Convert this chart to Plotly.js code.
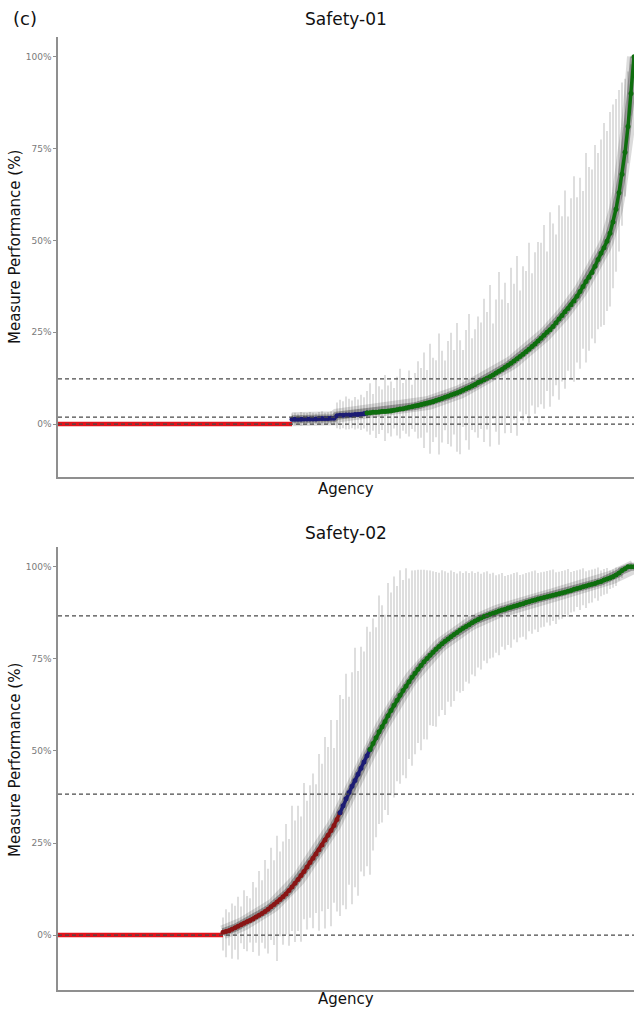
<!DOCTYPE html>
<html>
<head>
<meta charset="utf-8">
<script src="https://cdn.plot.ly/plotly-3.0.1.min.js"></script>
<style>
html,body{margin:0;padding:0;background:#fff;}
#chart{width:634px;height:1013px;}
</style>
</head>
<body>
<div id="chart"></div>
<script>
// ---------------- DATA ----------------
const panelTitles = ["Safety-01", "Safety-02"];
const xAxisLabel = "Agency";
const yAxisLabel = "Measure Performance (%)";
const panelTag = "(c)";
const yTickVals = [0, 25, 50, 75, 100];
const yTickText = ["0%", "25%", "50%", "75%", "100%"];

// Safety-01: agencies at 0%, then sorted non-zero performance (%)
const s1ZeroCount = 78;
const s1BlueCount = 25;
const s1Values = [
  1.3,1.3,1.3,1.3,1.4,1.4,1.4,1.4,1.4,1.5,1.5,1.5,1.5,1.6,1.6,
  2.3,2.4,2.4,2.5,2.5,2.5,2.6,2.6,2.7,2.8,
  3.0,3.1,3.2,3.2,3.3,3.4,3.4,3.5,3.6,3.8,
  3.9,4.1,4.2,4.4,4.6,4.7,4.9,5.1,5.3,5.5,
  5.7,5.9,6.1,6.4,6.7,7.0,7.3,7.6,7.9,8.2,
  8.5,8.8,9.2,9.6,10.0,10.4,10.8,11.3,11.7,12.1,
  12.5,12.9,13.4,13.9,14.4,14.9,15.5,16.0,16.6,17.2,
  17.8,18.4,19.0,19.7,20.4,21.1,21.8,22.6,23.4,24.2,
  25.0,25.7,26.6,27.6,28.6,29.6,30.6,31.5,32.5,33.5,
  34.8,36.1,37.5,38.8,40.0,41.3,43.0,44.8,46.5,48.0,
  49.8,52.0,55.0,58.5,63.0,68.0,74.0,81.0,90.0,100.0
];
const s1ErrUp = [
  1.6,1.8,1.5,2.0,1.7,1.6,1.9,1.7,1.5,1.8,2.0,1.6,1.7,1.9,1.8,
  3.6,4.2,3.8,5.0,4.4,3.9,4.8,4.1,5.3,4.5,
  6,8,5,9,7,6,10,7,8,6,9,11,7,8,10,6,9,12,
  10,14,9,16,12,11,18,13,10,15,17,12,19,14,11,16,20,13,15,18,
  16,22,18,25,14,20,27,19,23,17,26,21,28,18,24,22,29,20,25,27,
  26,30,22,32,28,24,31,27,33,25,29,34,27,31,26,35,30,28,33,29,
  31,34,30,33,32,30,28,25,20,15,8,0
];
const s1ErrDown = [
  1.5,1.6,1.4,1.7,1.5,1.5,1.6,1.5,1.4,1.6,1.7,1.5,1.5,1.6,1.6,
  3.4,3.8,3.5,4.0,3.9,3.6,4.1,3.8,4.3,4.0,
  5,6,5,7,6,5,8,6,7,5,7,8,6,7,8,6,7,9,
  9,12,8,14,11,10,15,12,9,13,14,11,16,17,10,14,17,12,13,15,
  13,17,14,19,12,16,20,15,18,14,19,16,21,15,18,17,20,16,19,18,
  18,20,16,21,19,17,22,18,21,17,20,22,18,21,17,22,20,18,21,19,
  20,21,19,20,18,17,16,14,12,10,6,0
];
const s1Benchmarks = [0, 1.9, 12.3];

// Safety-02
const s2ZeroCount = 55;
const s2RedCount = 39;
const s2BlueCount = 10;
const s2Values = [
  0.8,1.0,1.2,1.6,2.0,2.4,2.8,3.2,3.6,4.0,
  4.4,4.9,5.4,5.9,6.4,7.0,7.7,8.3,9.0,9.7,
  10.4,11.2,12.1,13.1,14.1,15.1,16.2,17.3,18.5,19.7,
  20.9,22.0,23.2,24.5,25.8,27.1,28.4,29.8,31.4,33.2,
  35.1,37.0,38.7,40.4,42.0,43.7,45.3,47.0,48.7,50.4,
  52.0,53.6,55.2,56.6,58.0,59.6,61.0,62.4,63.8,65.1,
  66.4,67.6,68.8,70.0,71.1,72.2,73.2,74.2,75.1,76.0,
  76.8,77.6,78.4,79.1,79.8,80.4,81.0,81.6,82.2,82.8,
  83.3,83.8,84.3,84.8,85.3,85.7,86.1,86.5,86.8,87.1,
  87.4,87.7,88.0,88.3,88.5,88.8,89.0,89.3,89.5,89.8,
  90.0,90.3,90.5,90.8,91.0,91.3,91.5,91.7,91.9,92.1,
  92.3,92.5,92.7,92.9,93.1,93.4,93.6,93.9,94.1,94.3,
  94.6,94.8,95.1,95.3,95.5,95.8,96.0,96.4,96.7,97.0,
  97.3,97.8,98.3,99.0,99.5,100,100,100
];
const s2ErrUp = [
  4,6,5,7,6,8,5,9,7,6,
  10,8,12,9,14,11,16,12,18,13,
  15,19,14,22,17,20,16,24,18,21,
  23,19,26,22,28,24,30,21,27,32,
  29,34,26,31,36,28,33,30,35,32,
  34,30,37,33,29,36,32,35,31,34,
  30,32,28,29,28,27,26,25,24,23,
  22,21,20,20,19,18,18,17,16,16,
  15,15,14,14,13,13,12,12,12,11,
  11,10,10,10,9,9,9,9,9,8,
  8,8,8,8,8,7,7,7,7,7,
  7,6,6,6,6,6,5,5,5,5,
  5,4,4,4,4,4,3,3,3,2,
  2,2,1.5,1,0.5,0,0,0
];
const s2ErrDown = [
  5,7,4,8,6,9,5,7,8,6,
  9,7,11,8,10,12,9,11,16,10,
  13,11,15,12,16,14,18,13,17,15,
  19,16,22,18,24,20,26,21,25,28,
  27,30,25,32,29,33,28,31,30,34,
  29,27,25,26,24,27,23,25,22,24,
  23,25,21,24,22,20,23,21,22,19,
  20,21,19,18,20,17,19,18,16,17,
  17,15,16,14,15,13,14,12,13,12,
  12,11,12,10,11,10,11,9,10,9,
  9,10,8,9,8,9,8,8,7,8,
  7,8,7,7,6,7,6,6,5,6,
  5,6,5,5,4,5,4,4,4,3,
  3,3,2,2,1,1,0.5,0
];
const s2Benchmarks = [0, 38.3, 86.7];

// ---------------- STYLE ----------------
const FONT = "DejaVu Sans, Verdana, sans-serif";
const C_ZERO = "#e3121b";
const C_RED = "#8a1515";
const C_BLUE = "#1c1c74";
const C_GREEN = "#0e6e0e";
const AXIS_GRAY = "#8f8f8f";

function buildPanel(zeroCount, values, up, down, colorGroups, xa, ya) {
  const zx = [], zy = [];
  for (let i = 0; i <= zeroCount; i++) { zx.push(i); zy.push(0); }
  const nx = values.map((v, i) => zeroCount + i);
  const out = [
    { x: nx, y: values, xaxis: xa, yaxis: ya, type: "scatter", mode: "markers",
      marker: { size: 1, opacity: 0 }, hoverinfo: "skip", showlegend: false,
      error_y: { type: "data", symmetric: false, array: up, arrayminus: down,
                 color: "rgba(60,60,60,0.22)", thickness: 1.5, width: 0 } },
    { x: nx, y: values, xaxis: xa, yaxis: ya, type: "scatter", mode: "lines",
      line: { color: "rgba(30,30,30,0.16)", width: 14 }, hoverinfo: "skip", showlegend: false },
    { x: nx, y: values, xaxis: xa, yaxis: ya, type: "scatter", mode: "lines",
      line: { color: "rgba(20,20,20,0.32)", width: 8 }, hoverinfo: "skip", showlegend: false },
    { x: zx, y: zy, xaxis: xa, yaxis: ya, type: "scatter", mode: "lines",
      line: { color: C_ZERO, width: 4.5 }, hoverinfo: "skip", showlegend: false }
  ];
  // coloured groups (connected lines + markers)
  const groups = colorGroups.slice();
  const used = groups.reduce((s, g) => s + g.n, 0);
  groups.push({ n: values.length - used, c: C_GREEN });
  let start = 0;
  groups.forEach(g => {
    const end = Math.min(values.length, start + g.n + 1);
    out.push({ x: nx.slice(start, end), y: values.slice(start, end), xaxis: xa, yaxis: ya,
      type: "scatter", mode: "lines+markers",
      line: { color: g.c, width: 3.5 }, marker: { size: 5, color: g.c, line: { width: 0 } },
      hoverinfo: "skip", showlegend: false });
    start += g.n;
  });
  return out;
}

const traces = []
  .concat(buildPanel(s1ZeroCount, s1Values, s1ErrUp, s1ErrDown,
          [{ n: s1BlueCount, c: C_BLUE }], "x", "y"))
  .concat(buildPanel(s2ZeroCount, s2Values, s2ErrUp, s2ErrDown,
          [{ n: s2RedCount, c: C_RED }, { n: s2BlueCount, c: C_BLUE }], "x2", "y2"));

const N1 = s1ZeroCount + s1Values.length - 1;
const N2 = s2ZeroCount + s2Values.length - 1;

// pixel -> paper helpers (plot area: x 58..634, y 37..990)
const py = p => (990 - p) / 953;
const pxp = p => (p - 58) / 576;

function benchShapes(vals, xref, yref) {
  return vals.map(v => ({
    type: "line", xref: xref + " domain", yref: yref, x0: 0, x1: 1, y0: v, y1: v,
    line: { color: "#4a4a4a", width: 1.2, dash: "4px,3px" }, layer: "above"
  }));
}

const yAxisCommon = {
  tickvals: yTickVals, ticktext: yTickText, ticks: "outside", ticklen: 3,
  tickcolor: AXIS_GRAY, tickwidth: 1, showgrid: false, zeroline: false,
  showline: true, linecolor: AXIS_GRAY, linewidth: 1.6,
  tickfont: { family: FONT, size: 9, color: "#7a7a7a" }, fixedrange: true
};
const xAxisCommon = {
  showticklabels: false, ticks: "", showgrid: false, zeroline: false,
  showline: true, linecolor: AXIS_GRAY, linewidth: 1.6, fixedrange: true
};

const layout = {
  width: 634, height: 1013,
  margin: { l: 58, r: 0, t: 37, b: 23, pad: 0 },
  paper_bgcolor: "#ffffff", plot_bgcolor: "#ffffff",
  showlegend: false,
  font: { family: FONT },
  xaxis: Object.assign({}, xAxisCommon, { domain: [0, 1], range: [0, N1], anchor: "y" }),
  yaxis: Object.assign({}, yAxisCommon, { domain: [0.5383, 1], range: [-14.4, 105.4], anchor: "x" }),
  xaxis2: Object.assign({}, xAxisCommon, { domain: [0, 1], range: [0, N2], anchor: "y2" }),
  yaxis2: Object.assign({}, yAxisCommon, { domain: [0, 0.4649], range: [-14.9, 105.4], anchor: "x2" }),
  shapes: benchShapes(s1Benchmarks, "x", "y").concat(benchShapes(s2Benchmarks, "x2", "y2")),
  annotations: [
    { text: panelTag, xref: "paper", yref: "paper", x: pxp(11), y: py(19), xanchor: "left", yanchor: "middle",
      showarrow: false, font: { family: FONT, size: 18, color: "#111" } },
    { text: panelTitles[0], xref: "paper", yref: "paper", x: 0.5, y: py(19), xanchor: "center", yanchor: "middle",
      showarrow: false, font: { family: FONT, size: 17, color: "#111" } },
    { text: panelTitles[1], xref: "paper", yref: "paper", x: 0.5, y: py(533), xanchor: "center", yanchor: "middle",
      showarrow: false, font: { family: FONT, size: 17, color: "#111" } },
    { text: xAxisLabel, xref: "paper", yref: "paper", x: 0.5, y: py(489), xanchor: "center", yanchor: "middle",
      showarrow: false, font: { family: FONT, size: 15, color: "#111" } },
    { text: xAxisLabel, xref: "paper", yref: "paper", x: 0.5, y: py(999), xanchor: "center", yanchor: "middle",
      showarrow: false, font: { family: FONT, size: 15, color: "#111" } },
    { text: yAxisLabel, xref: "paper", yref: "paper", x: pxp(15), y: py(247), xanchor: "center", yanchor: "middle",
      textangle: -90, showarrow: false, font: { family: FONT, size: 15, color: "#111" } },
    { text: yAxisLabel, xref: "paper", yref: "paper", x: pxp(15), y: py(760), xanchor: "center", yanchor: "middle",
      textangle: -90, showarrow: false, font: { family: FONT, size: 15, color: "#111" } }
  ]
};

Plotly.newPlot("chart", traces, layout, { staticPlot: true, displayModeBar: false });
</script>
</body>
</html>
